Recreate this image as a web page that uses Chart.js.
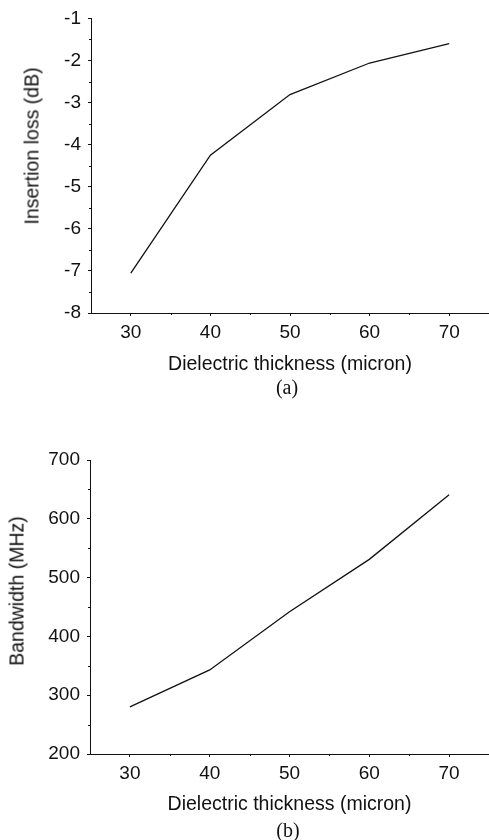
<!DOCTYPE html>
<html><head><meta charset="utf-8">
<script src="https://cdn.jsdelivr.net/npm/chart.js@4.4.0/dist/chart.umd.min.js"></script>
<style>
html,body{margin:0;padding:0;background:#fff;}
body{width:489px;height:840px;position:relative;overflow:hidden;font-family:"Liberation Sans",Arial,sans-serif;}
.wrap{position:absolute;left:0;width:489px;height:420px;}
.ytitle{position:absolute;font-size:19.5px;color:#111;white-space:nowrap;transform:translate(-50%,-50%) rotate(-90deg);}
.cap{position:absolute;font-family:"Liberation Serif","Times New Roman",serif;font-size:20px;color:#111;transform:translate(-50%,-50%);white-space:nowrap;}
</style></head>
<body>
<div class="wrap" style="top:0"><canvas id="ca"></canvas></div>
<div class="wrap" style="top:420px"><canvas id="cb"></canvas></div>
<div class="ytitle" style="left:32px;top:146px">Insertion loss (dB)</div>
<div class="ytitle" style="left:17px;top:591px">Bandwidth (MHz)</div>
<div class="cap" style="left:287px;top:387px">(a)</div>
<div class="cap" style="left:288px;top:830px">(b)</div>
<script>
// ---- data ----
const thickness = [30, 40, 50, 60, 70];           // Dielectric thickness (micron)
const insertionLoss = [-7.05, -4.25, -2.81, -2.06, -1.6]; // dB
const bandwidth = [280, 343, 442, 531, 641];      // MHz
const xTicks = [30, 40, 50, 60, 70];
const xMinorTicks = [35, 45, 55, 65];
const lossTicks = [-8, -7, -6, -5, -4, -3, -2, -1];
const lossMinorTicks = [-7.5, -6.5, -5.5, -4.5, -3.5, -2.5, -1.5];
const bwTicks = [200, 300, 400, 500, 600, 700];
const bwMinorTicks = [250, 350, 450, 550, 650];
const xTitle = 'Dielectric thickness (micron)';

const INK = '#111';

const minorTicks = {
  id: 'minorTicks',
  afterDraw(chart, args, opts) {
    const ctx = chart.ctx, xs = chart.scales.x, ys = chart.scales.y;
    ctx.save();
    ctx.strokeStyle = INK; ctx.lineWidth = 1;
    ctx.beginPath();
    (opts.x || []).forEach(v => {
      const px = Math.round(xs.getPixelForValue(v)) + 0.5;
      ctx.moveTo(px, xs.top); ctx.lineTo(px, xs.top + 2);
    });
    (opts.y || []).forEach(v => {
      const py = Math.round(ys.getPixelForValue(v)) + 0.5;
      ctx.moveTo(ys.right, py); ctx.lineTo(ys.right - 2, py);
    });
    ctx.stroke();
    ctx.restore();
  }
};

function makeChart(id, yVals, yMin, yMax, yTickVals, yMinor, cfg) {
  return new Chart(document.getElementById(id), {
    type: 'line',
    data: {
      datasets: [{
        data: thickness.map((t, i) => ({ x: t, y: yVals[i] })),
        borderColor: INK, borderWidth: 1.3, pointRadius: 0, tension: 0, fill: false
      }]
    },
    plugins: [minorTicks],
    options: {
      responsive: true, maintainAspectRatio: false, animation: false,
      layout: { padding: { top: cfg.top, left: 0, right: 0, bottom: 0 } },
      plugins: { legend: { display: false }, tooltip: { enabled: false },
        minorTicks: { x: xMinorTicks, y: yMinor } },
      scales: {
        x: {
          type: 'linear', min: 25, max: 75,
          afterBuildTicks: s => { s.ticks = xTicks.map(v => ({ value: v })); },
          afterFit: s => { s.height = cfg.xh; },
          grid: { drawOnChartArea: false, drawTicks: true, tickLength: 3, tickColor: INK },
          border: { display: true, color: INK, width: 1 },
          ticks: { color: INK, padding: 5, font: { family: 'Liberation Sans', size: 19 }, maxRotation: 0 },
          title: { display: true, text: xTitle, color: INK,
            font: { family: 'Liberation Sans', size: 19.5 },
            padding: { top: 0, bottom: cfg.tpad } }
        },
        y: {
          type: 'linear', min: yMin, max: yMax,
          afterBuildTicks: s => { s.ticks = yTickVals.map(v => ({ value: v })); },
          afterFit: s => { s.width = cfg.yw; },
          grid: { drawOnChartArea: false, drawTicks: true, tickLength: 3, tickColor: INK },
          border: { display: true, color: INK, width: 1 },
          ticks: { color: INK, padding: 7, font: { family: 'Liberation Sans', size: 19 } }
        }
      }
    }
  });
}

makeChart('ca', insertionLoss, -8, -1, lossTicks, lossMinorTicks, { top: 16, xh: 107, yw: 91, tpad: 43.6 });
makeChart('cb', bandwidth, 200, 700, bwTicks, bwMinorTicks, { top: 40, xh: 86, yw: 90, tpad: 23.6 });
</script>
</body></html>
